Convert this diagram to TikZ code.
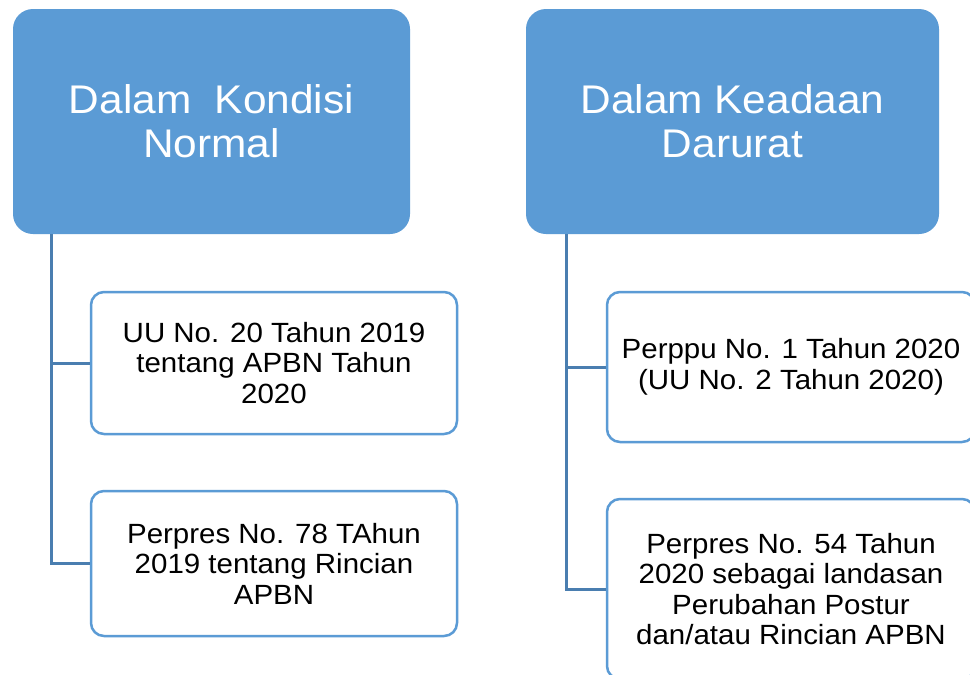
\documentclass[tikz,border=0pt]{standalone}
\usepackage{fontspec}
\setmainfont[FakeStretch=1.06]{Liberation Sans}
\definecolor{boxblue}{HTML}{5B9BD5}
\definecolor{linkblue}{HTML}{4A7EB0}
\begin{document}
\begin{tikzpicture}[x=1pt,y=-1pt,
  titlebox/.style={draw=none,fill=boxblue,rounded corners=20pt,inner sep=0pt,
    text=white,align=center,font=\fontsize{40}{44}\selectfont},
  childbox/.style={draw=boxblue,line width=2.5pt,fill=white,rounded corners=13pt,inner sep=0pt,
    text=black,align=center,font=\fontsize{27.8}{30.5}\selectfont},
  conn/.style={draw=linkblue,line width=3pt}]
\useasboundingbox (0,0) rectangle (970,675);
\clip (0,0) rectangle (970,675);
\fill[white] (0,0) rectangle (970,675);
% titles
\node[titlebox,minimum width=397pt,minimum height=225pt] (tl) at (211.5,121.5) {Dalam\ \ Kondisi\\Normal};
\node[titlebox,minimum width=413pt,minimum height=225pt] (tr) at (732.5,121.5) {Dalam Keadaan\\Darurat};
% left children
\node[childbox,minimum width=366pt,minimum height=142pt] (l1) at (274,363) {UU No. 20 Tahun 2019\\tentang APBN Tahun\\2020};
\node[childbox,minimum width=366pt,minimum height=145pt] (l2) at (274,563.5) {Perpres No. 78 TAhun\\2019 tentang Rincian\\APBN};
% right children
\node[childbox,minimum width=368pt,minimum height=150pt] (r1) at (791,367) {Perppu No. 1 Tahun 2020\\(UU No. 2 Tahun 2020)};
\node[childbox,minimum width=368pt,minimum height=180pt] (r2) at (791,589) {Perpres No. 54 Tahun\\2020 sebagai landasan\\Perubahan Postur\\dan/atau Rincian APBN};
% connectors
\coordinate (lstem) at (51,234);
\coordinate (rstem) at (566,234);
\draw[conn] (lstem) |- (l1.west);
\draw[conn] (lstem) |- (l2.west);
\draw[conn] (rstem) |- (r1.west);
\draw[conn] (rstem) |- (r2.west);
\end{tikzpicture}
\end{document}
